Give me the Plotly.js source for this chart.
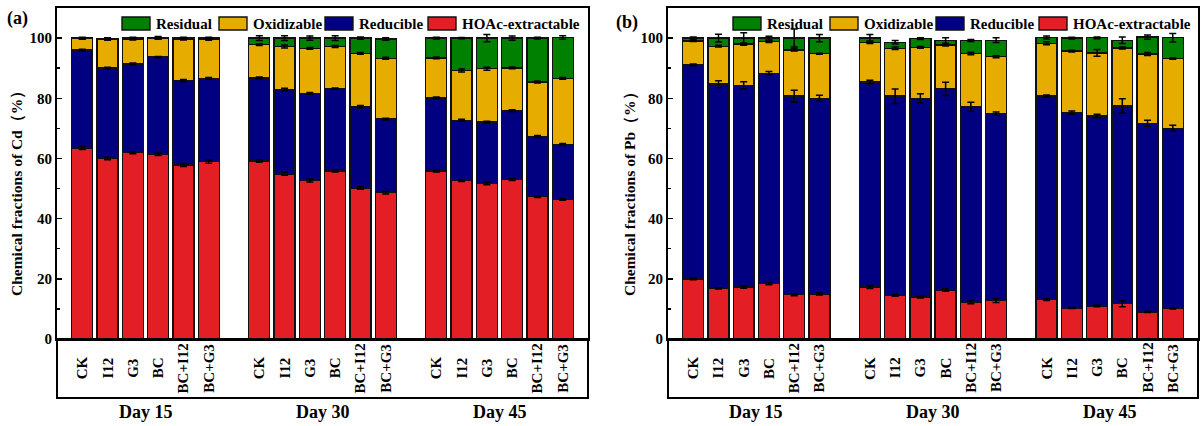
<!DOCTYPE html>
<html>
<head>
<meta charset="utf-8">
<script src="https://cdn.plot.ly/plotly-3.0.1.min.js"></script>
<style>html,body{margin:0;padding:0;background:#fff;}#chart{width:1202px;height:426px;}</style>
</head>
<body>
<div id="chart"></div>
<script>
// ---------- data ----------
const categories = ['CK', 'I12', 'G3', 'BC', 'BC+I12', 'BC+G3'];
const days = ['Day 15', 'Day 30', 'Day 45'];
const fractions = ['HOAc-extractable', 'Reducible', 'Oxidizable', 'Residual'];
const fractionColors = ['#E31E24', '#000080', '#E6AC00', '#008000'];
const legendOrder = ['Residual', 'Oxidizable', 'Reducible', 'HOAc-extractable'];
const yTickVals = [0, 20, 40, 60, 80, 100];

// Cd fractions (%), Day 15 / Day 30 / Day 45, each in category order
const cdHOAc       = [63.5, 60.0, 61.9, 61.4, 57.8, 58.9,  59.1, 54.9, 52.7, 55.8, 50.2, 48.6,  55.8, 52.6, 51.7, 53.0, 47.3, 46.4];
const cdReducible  = [32.5, 30.0, 29.5, 32.3, 28.1, 27.7,  27.7, 28.0, 28.9, 27.4, 27.0, 24.5,  24.3, 20.1, 20.4, 22.9, 20.0, 18.3];
const cdOxidizable = [3.8, 9.6, 8.3, 6.2, 13.7, 13.0,      11.0, 14.3, 15.0, 14.0, 17.7, 20.2,  13.3, 16.5, 17.7, 14.2, 18.1, 21.9];
const cdResidual   = [0.2, 0.3, 0.3, 0.2, 0.4, 0.4,        2.2, 2.8, 3.4, 2.8, 5.1, 6.4,        6.6, 10.8, 10.2, 9.9, 14.6, 13.6];
const cdHOAcErr       = [0.5, 0.4, 0.3, 0.4, 0.5, 0.5,  0.4, 0.5, 0.5, 0.3, 0.4, 0.4,  0.3, 0.3, 0.4, 0.3, 0.3, 0.3];
const cdReducibleErr  = [0.3, 0.3, 0.3, 0.2, 0.3, 0.3,  0.3, 0.4, 0.3, 0.2, 0.4, 0.3,  0.3, 0.3, 0.3, 0.3, 0.3, 0.3];
const cdOxidizableErr = [0.2, 0.3, 0.3, 0.3, 0.2, 0.3,  0.3, 0.5, 0.3, 0.3, 0.3, 0.3,  0.3, 0.5, 0.5, 0.3, 0.3, 0.3];
const cdResidualErr   = [0.3, 0.2, 0.3, 0.4, 0.3, 0.3,  0.8, 0.8, 0.7, 0.8, 0.4, 0.4,  0.3, 0.2, 1.2, 0.7, 0.3, 0.6];

// Pb fractions (%)
const pbHOAc       = [20.0, 16.8, 17.3, 18.4, 14.7, 15.0,  17.3, 14.5, 13.9, 16.3, 12.2, 12.8,  13.1, 10.3, 11.0, 11.7, 9.0, 10.2];
const pbReducible  = [71.1, 67.9, 67.0, 69.9, 66.0, 65.0,  68.1, 66.2, 66.1, 66.8, 65.0, 62.1,  67.6, 65.0, 63.1, 65.7, 62.7, 59.8];
const pbOxidizable = [8.0, 12.6, 13.7, 10.5, 15.4, 14.8,   13.2, 15.9, 16.9, 14.6, 17.7, 18.9,  17.6, 20.4, 21.0, 19.3, 23.0, 23.2];
const pbResidual   = [0.9, 2.7, 2.0, 1.2, 3.9, 5.2,        1.4, 2.0, 2.9, 1.5, 4.3, 5.5,        1.9, 4.3, 5.0, 2.6, 5.6, 6.9];
const pbHOAcErr       = [0.3, 0.2, 0.4, 0.4, 0.3, 0.4,  0.5, 0.3, 0.3, 0.4, 0.5, 0.7,  0.3, 0.2, 0.3, 1.0, 0.2, 0.2];
const pbReducibleErr  = [0.3, 1.1, 1.2, 0.6, 2.0, 1.0,  0.6, 2.4, 1.5, 2.2, 1.5, 0.5,  0.4, 0.5, 0.6, 2.4, 1.0, 1.0];
const pbOxidizableErr = [0.2, 0.3, 0.4, 0.3, 0.4, 0.2,  0.4, 0.4, 0.3, 0.3, 0.4, 0.3,  0.5, 0.3, 1.1, 0.3, 0.5, 0.2];
const pbResidualErr   = [0.4, 1.3, 1.8, 0.6, 3.0, 1.2,  1.2, 0.6, 0.3, 0.9, 0.3, 0.8,  0.5, 0.3, 0.3, 1.1, 0.7, 1.4];

// ---------- build ----------
const FONT = 'Liberation Serif, Times New Roman, serif';
const xPos = [];
const xLab = [];
days.forEach((d, di) => categories.forEach((c, ci) => {
  xPos.push(di * (categories.length + 1) + ci);
  xLab.push(c);
}));
const groupCenters = days.map((d, di) => di * (categories.length + 1) + (categories.length - 1) / 2);

const panels = [
  {xa: 'x', ya: 'y', series: [cdHOAc, cdReducible, cdOxidizable, cdResidual],
   errs: [cdHOAcErr, cdReducibleErr, cdOxidizableErr, cdResidualErr], title: 'Chemical fractions of Cd（%）', tag: '(a)'},
  {xa: 'x2', ya: 'y2', series: [pbHOAc, pbReducible, pbOxidizable, pbResidual],
   errs: [pbHOAcErr, pbReducibleErr, pbOxidizableErr, pbResidualErr], title: 'Chemical fractions of Pb（%）', tag: '(b)'}
];

const traces = [];
panels.forEach(p => {
  const cum = xPos.map(() => 0);
  p.series.forEach((vals, fi) => {
    traces.push({
      type: 'bar', x: xPos, y: vals, xaxis: p.xa, yaxis: p.ya, name: fractions[fi],
      width: 0.83, showlegend: false, hoverinfo: 'skip',
      marker: {color: fractionColors[fi], line: {color: '#111', width: 1.4}}
    });
  });
  // error bars on top of all bars, positioned at cumulative tops
  p.series.forEach((vals, fi) => {
    const tops = vals.map((v, i) => (cum[i] += v));
    traces.push({
      type: 'scatter', mode: 'markers', x: xPos, y: tops.slice(), xaxis: p.xa, yaxis: p.ya,
      marker: {size: 1, opacity: 0}, showlegend: false, hoverinfo: 'skip',
      error_y: {type: 'data', array: p.errs[fi], color: '#000', thickness: 1.5, width: 3.5}
    });
  });
});

const plotTop = 8, plotBottom = 339, plotH = plotBottom - plotTop;
const py = px => (plotBottom - px) / plotH;   // pixel row -> paper y
const domains = [[57 / 1202, 588 / 1202], [668 / 1202, 1198 / 1202]];
const legendOffsets = [65, 162, 268, 371];

function xaxisDef(dom) {
  return {domain: dom, range: [-1, 20], showline: true, linewidth: 2, linecolor: '#000', mirror: true,
          showticklabels: false, ticks: '', showgrid: false, zeroline: false, fixedrange: true};
}
function yaxisDef(anchor) {
  return {anchor: anchor, range: [0, 110], tickvals: yTickVals, ticks: 'inside', ticklen: 5, tickwidth: 1.5,
          tickcolor: '#000', showline: true, linewidth: 2, linecolor: '#000', mirror: true, showgrid: false,
          zeroline: false, fixedrange: true,
          tickfont: {family: FONT, size: 15, color: '#000', weight: 'bold'},
          minor: {tickvals: [10, 30, 50, 70, 90], ticks: 'inside', ticklen: 3, tickwidth: 1.5, tickcolor: '#000'}};
}

const shapes = [];
const annotations = [];
panels.forEach((p, pi) => {
  const dom = domains[pi];
  const wpx = (dom[1] - dom[0]) * 1202;
  const dref = p.xa + ' domain';
  shapes.push({type: 'rect', xref: dref, yref: 'paper', x0: 0, x1: 1, y0: py(398), y1: 0,
               line: {color: '#000', width: 2}});
  // x category labels
  xPos.forEach((x, i) => annotations.push({
    xref: p.xa, yref: 'paper', x: x, y: py(368), text: xLab[i], textangle: -90, showarrow: false,
    xanchor: 'center', yanchor: 'middle', font: {family: FONT, size: 15, color: '#000', weight: 'bold'}
  }));
  // day labels
  groupCenters.forEach((gc, di) => annotations.push({
    xref: p.xa, yref: 'paper', x: gc, y: py(412), text: days[di], showarrow: false,
    xanchor: 'center', yanchor: 'middle', font: {family: FONT, size: 18, color: '#000', weight: 'bold'}
  }));
  // legend
  legendOrder.forEach((name, li) => {
    const off = legendOffsets[li];
    const color = fractionColors[fractions.indexOf(name)];
    shapes.push({type: 'rect', xref: dref, yref: 'paper', x0: off / wpx, x1: (off + 28) / wpx,
                 y0: py(30), y1: py(17), fillcolor: color, line: {color: '#111', width: 1.4}});
    annotations.push({xref: dref, yref: 'paper', x: (off + 32) / wpx, y: py(23.5), text: name, showarrow: false,
                      xanchor: 'left', yanchor: 'middle', font: {family: FONT, size: 15, color: '#000', weight: 'bold'}});
  });
  // y title
  annotations.push({xref: 'paper', yref: 'paper', x: (pi === 0 ? 17 : 630) / 1202, y: py(190), text: p.title,
                    textangle: -90, showarrow: false, xanchor: 'center', yanchor: 'middle',
                    font: {family: FONT, size: 15.5, color: '#000', weight: 'bold'}});
  // panel tag
  annotations.push({xref: 'paper', yref: 'paper', x: (pi === 0 ? 17 : 627) / 1202, y: py(pi === 0 ? 19 : 23),
                    text: p.tag, showarrow: false, xanchor: 'center', yanchor: 'middle',
                    font: {family: FONT, size: 18, color: '#000', weight: 'bold'}});
});

const layout = {
  width: 1202, height: 426, margin: {l: 0, r: 0, t: plotTop, b: 426 - plotBottom},
  paper_bgcolor: '#fff', plot_bgcolor: '#fff', barmode: 'stack', showlegend: false,
  xaxis: xaxisDef(domains[0]), yaxis: yaxisDef('x'),
  xaxis2: xaxisDef(domains[1]), yaxis2: yaxisDef('x2'),
  shapes: shapes, annotations: annotations
};

Plotly.newPlot('chart', traces, layout, {displayModeBar: false, staticPlot: true});
</script>
</body>
</html>
